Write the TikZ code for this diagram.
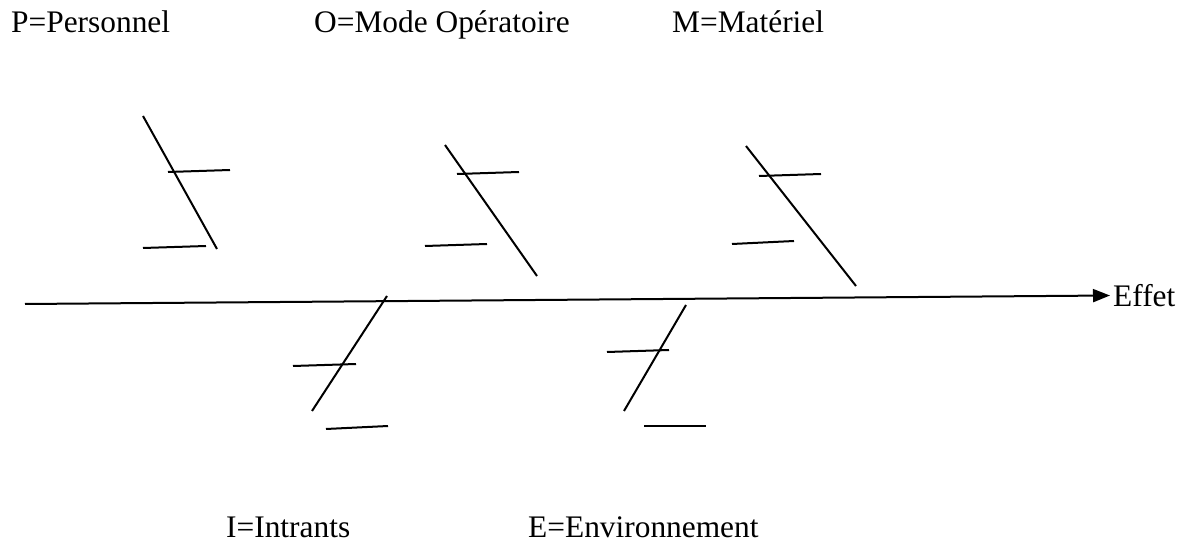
\documentclass[tikz,border=0pt]{standalone}
\usepackage{fontspec}
\setmainfont{Liberation Serif}
\usetikzlibrary{arrows.meta}
\begin{document}
\begin{tikzpicture}[x=1bp,y=-1bp,
  bone/.style={line width=2bp,line cap=butt},
  lbl/.style={font=\fontsize{31.5}{36}\selectfont,inner sep=0pt,anchor=base west}]
\useasboundingbox (0,0) rectangle (1189,542);
% labels
\node[lbl] (P) at (11,33) {P=Personnel};
\node[lbl] (O) at (314,33) {O=Mode Opératoire};
\node[lbl] (M) at (672,33) {M=Matériel};
\node[lbl] (I) at (226,537) {I=Intrants};
\node[lbl] (E) at (528,537) {E=Environnement};
\node[lbl] (effet) at (1113,307) {Effet};
% spine
\coordinate (s0) at (25,304);
\coordinate (s1) at (1110,295.5);
\draw[bone,-{Triangle[length=17bp,width=13bp]}] (s0) -- (s1);
% P bone
\coordinate (p1) at (143,116); \coordinate (p2) at (217,249);
\coordinate (p3) at (168,172); \coordinate (p4) at (230,170);
\coordinate (p5) at (143,248); \coordinate (p6) at (206,246);
\draw[bone] (p1) -- (p2); \draw[bone] (p3) -- (p4); \draw[bone] (p5) -- (p6);
% O bone
\coordinate (o1) at (445,145); \coordinate (o2) at (537,276);
\coordinate (o3) at (457,174); \coordinate (o4) at (519,172);
\coordinate (o5) at (425,246); \coordinate (o6) at (487,244);
\draw[bone] (o1) -- (o2); \draw[bone] (o3) -- (o4); \draw[bone] (o5) -- (o6);
% M bone
\coordinate (m1) at (746,146); \coordinate (m2) at (856,286);
\coordinate (m3) at (759,176); \coordinate (m4) at (821,174);
\coordinate (m5) at (732,244); \coordinate (m6) at (794,241);
\draw[bone] (m1) -- (m2); \draw[bone] (m3) -- (m4); \draw[bone] (m5) -- (m6);
% I bone
\coordinate (i1) at (387,296); \coordinate (i2) at (312,411);
\coordinate (i3) at (293,366); \coordinate (i4) at (356,364);
\coordinate (i5) at (326,429); \coordinate (i6) at (388,426);
\draw[bone] (i1) -- (i2); \draw[bone] (i3) -- (i4); \draw[bone] (i5) -- (i6);
% E bone
\coordinate (e1) at (686,305); \coordinate (e2) at (624,411);
\coordinate (e3) at (607,352); \coordinate (e4) at (669,350);
\coordinate (e5) at (644,426); \coordinate (e6) at (706,426);
\draw[bone] (e1) -- (e2); \draw[bone] (e3) -- (e4); \draw[bone] (e5) -- (e6);
\end{tikzpicture}
\end{document}
